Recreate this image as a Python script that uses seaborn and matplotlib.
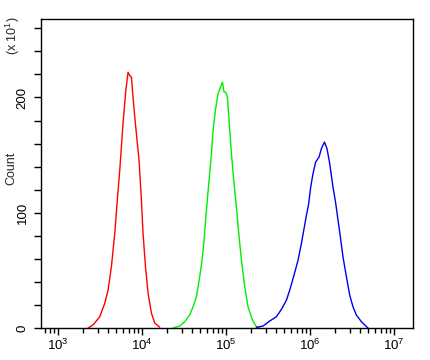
import numpy as np
import pandas as pd
import matplotlib
matplotlib.use("Agg")
import matplotlib.pyplot as plt
import seaborn as sns
from matplotlib.ticker import LogLocator, FixedLocator, NullFormatter

sns.set_style("white")
plt.rcParams['font.family'] = ['Liberation Sans', 'DejaVu Sans']
plt.rcParams['mathtext.fontset'] = 'custom'
plt.rcParams['mathtext.rm'] = 'Liberation Sans'
plt.rcParams['mathtext.it'] = 'Liberation Sans'

# log10 fluorescence intensity and counts (x10)
red_log = [3.361, 3.420, 3.500, 3.560, 3.599, 3.639, 3.679, 3.706, 3.738, 3.777,
           3.810, 3.837, 3.857, 3.877, 3.896, 3.917, 3.944, 3.968, 3.996, 4.015,
           4.044, 4.075, 4.115, 4.155, 4.214]
red_cnt = [0, 2.6, 9.8, 21.6, 32.9, 53.5, 82.4, 108.3, 136.8, 177.5,
           206.1, 221.9, 219.0, 217.6, 200.3, 182.9, 162.8, 145.5, 110.8, 82.4,
           53.5, 30.3, 12.9, 4.3, 0.6]

green_log = [4.373, 4.452, 4.512, 4.571, 4.611, 4.651, 4.690, 4.718, 4.742, 4.770,
             4.798, 4.830, 4.849, 4.877, 4.908, 4.937, 4.961, 4.980, 5.000, 5.020,
             5.048, 5.068, 5.095, 5.127, 5.155, 5.187, 5.226, 5.265, 5.318, 5.365, 5.405]
green_cnt = [0, 1.7, 5.5, 11.3, 18.5, 27, 44.4, 58.9, 76.2, 102.2,
             125.3, 151.3, 171.4, 188.7, 203.2, 208.9, 213.3, 204.6, 204.6, 200.3,
             171.4, 151.3, 128.1, 105, 82, 58.9, 35.8, 18.5, 6.9, 1.1, 0]

blue_log = [5.365, 5.444, 5.524, 5.604, 5.663, 5.723, 5.762, 5.813, 5.861, 5.901,
            5.929, 5.961, 5.988, 6.012, 6.039, 6.071, 6.111, 6.139, 6.175, 6.206,
            6.238, 6.277, 6.310, 6.337, 6.365, 6.396, 6.437, 6.476, 6.515, 6.555,
            6.615, 6.655, 6.694]
blue_cnt = [0.6, 1.7, 6.1, 9.8, 16.2, 24.2, 32.9, 45.9, 58.9, 73.3,
            84.8, 97.8, 108, 122.3, 133.9, 144, 148.3, 155.6, 161.3, 155.6,
            142.6, 122.3, 108, 93.5, 79, 61.7, 44.4, 28.6, 18.5, 11.3,
            5.5, 2.6, 0]

y_ticks = [0, 20, 40, 60, 80, 100, 120, 140, 160, 180, 200, 220, 240, 260]
y_labels = ['0', '', '', '', '', '100', '', '', '', '', '200', '', '', '']

fig = plt.figure(figsize=(4.3, 3.6), dpi=100)
ax = fig.add_axes([0.0953, 0.0889, 0.8652, 0.8581])

for lg, ct, col in [(red_log, red_cnt, '#ff0000'),
                    (green_log, green_cnt, '#00ee00'),
                    (blue_log, blue_cnt, '#0000ee')]:
    df = pd.DataFrame({'x': 10 ** np.array(lg), 'y': ct})
    sns.lineplot(data=df, x='x', y='y', color=col, lw=1.0, ax=ax,
                 estimator=None, sort=False)

ax.set_xscale('log')
ax.set_xlim(10 ** 2.8, 10 ** 7.23)
ax.set_ylim(0, 268)

ax.xaxis.set_major_locator(LogLocator(base=10, numticks=10))
ax.xaxis.set_minor_locator(LogLocator(base=10, subs=np.arange(2, 10), numticks=20))
ax.xaxis.set_minor_formatter(NullFormatter())
ax.yaxis.set_major_locator(FixedLocator(y_ticks))
ax.set_yticklabels(y_labels, rotation=90, va='center')

ax.tick_params(axis='x', which='major', direction='out', length=5, width=1,
               labelsize=9.5, pad=2, bottom=True, colors='black')
ax.tick_params(axis='x', which='minor', direction='out', length=3.5, width=1,
               bottom=True, colors='black')
ax.tick_params(axis='y', which='major', direction='out', length=5, width=1,
               labelsize=9.5, pad=4, left=True, colors='black')

for s in ax.spines.values():
    s.set_color('black')
    s.set_linewidth(1.0)

ax.set_xlabel('')
ax.set_ylabel('')
fig.text(0.026, 0.532, 'Count', rotation=90, fontsize=9,
         ha='center', va='center')
fig.text(0.03, 0.9, r'(x 10$^{1}$)', rotation=90, fontsize=9,
         ha='center', va='center')

fig.savefig('out.png', dpi=100)
